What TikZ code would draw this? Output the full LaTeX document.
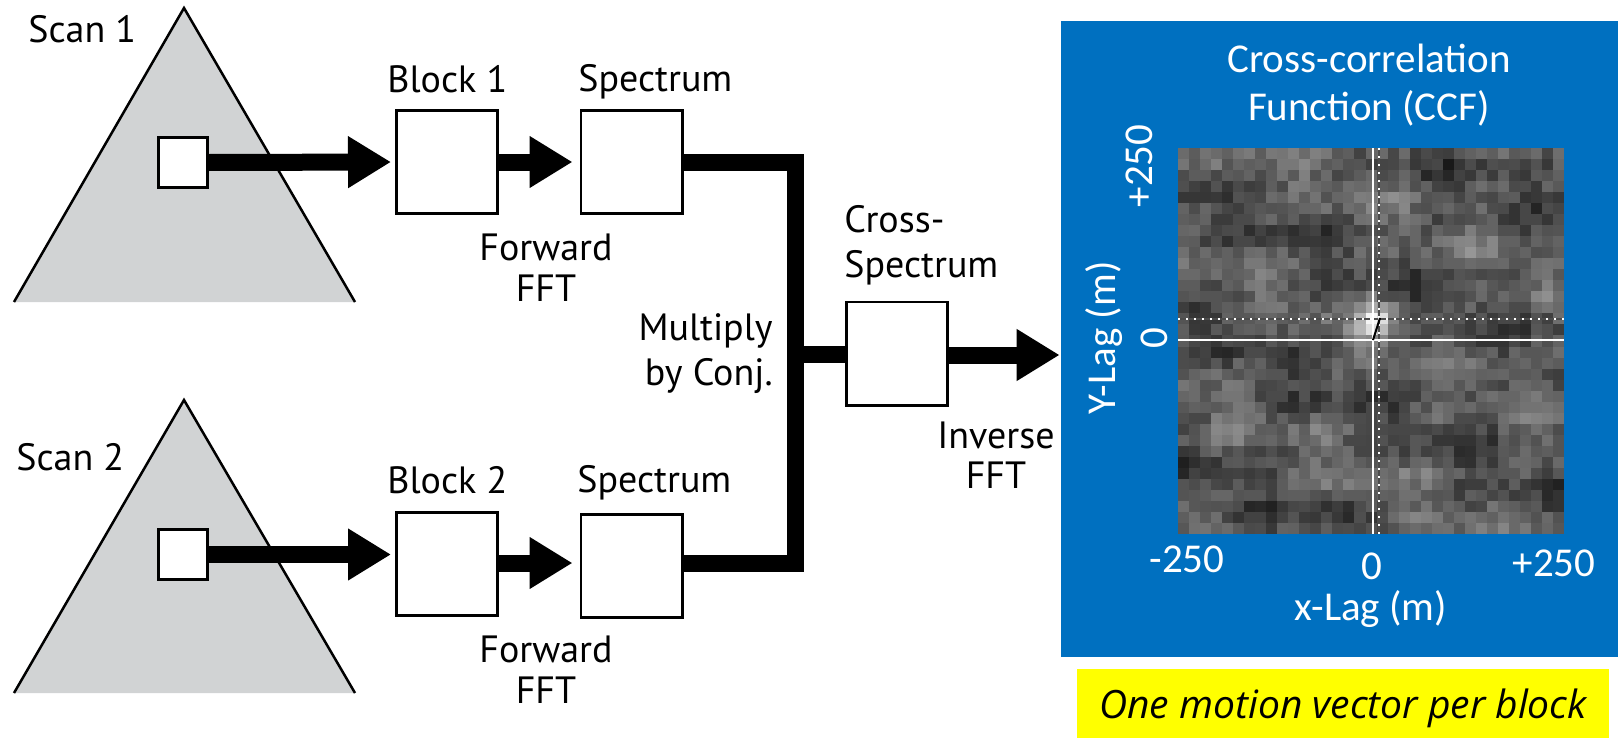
\documentclass[tikz,border=0pt]{standalone}
\usepackage{fontspec}
\setmainfont{PT Sans}
\newfontfamily\ccffont{Carlito}
\newfontfamily\notefont{Open Sans}
\usetikzlibrary{arrows.meta, positioning, calc}
\definecolor{ccfblue}{RGB}{0,112,192}
\definecolor{scangray}{RGB}{209,211,212}
\definecolor{noteyellow}{RGB}{255,255,0}

\begin{document}
\begin{tikzpicture}[
  x=0.5pt, y=-0.5pt,
  font=\fontsize{19}{21.5}\selectfont,
  blocco/.style={draw=black, fill=white, line width=1.4pt, inner sep=0pt,
                 minimum width=50.6pt, minimum height=51.6pt},
  finestra/.style={draw=black, fill=white, line width=1.4pt, inner sep=0pt,
                   minimum width=24.6pt, minimum height=25.1pt},
  freccia/.style={draw=black, line width=8.5pt, -{Triangle[length=21.5pt,width=24.5pt]}},
  bus/.style={draw=black, line width=8.5pt, line join=miter},
  lato/.style={draw=black, line width=1.25pt, line join=miter},
  etichetta/.style={inner sep=0pt},
  testoccf/.style={font=\ccffont\fontsize{20.5}{24}\selectfont, text=white, inner sep=0pt}
]
\useasboundingbox (0,0) rectangle (1620,738);

% scansioni
\fill[scangray] (14,302) -- (184,8) -- (355,302) -- cycle;
\draw[lato] (14,302) -- (184,8) -- (355,302);
\fill[scangray] (14,693) -- (184,400) -- (355,693) -- cycle;
\draw[lato] (14,693) -- (184,400) -- (355,693);

\node[etichetta, anchor=base west] (scan1) at (28,43)  {Scan 1};
\node[etichetta, anchor=base west] (scan2) at (16,470) {Scan 2};

\node[finestra] (win1) at (183,162.5) {};
\node[finestra] (win2) at (183,554.5) {};

% blocchi
\node[blocco] (blk1)  at (447,162)   {};
\node[blocco] (blk2)  at (447,564)   {};
\node[blocco] (spec1) at (631.5,162) {};
\node[blocco] (spec2) at (631.5,566) {};
\node[blocco] (xspec) at (897,353.5) {};

\node[etichetta, anchor=base west] (lblk1)  at (387,92)  {Block 1};
\node[etichetta, anchor=base west] (lblk2)  at (387,493) {Block 2};
\node[etichetta, anchor=base west] (lspec1) at (578,91)  {Spectrum};
\node[etichetta, anchor=base west] (lspec2) at (577,492) {Spectrum};
\node[etichetta, anchor=base, align=center, font=\fontsize{19}{20.5}\selectfont] (fft1) at (546,301) {Forward\\FFT};
\node[etichetta, anchor=base, align=center, font=\fontsize{19}{20.5}\selectfont] (fft2) at (546,703) {Forward\\FFT};
\node[etichetta, anchor=base east, align=right, font=\fontsize{19}{22.5}\selectfont] (mult) at (773,385) {Multiply\\by Conj.};
\node[etichetta, anchor=base west, align=left, font=\fontsize{19}{22.5}\selectfont] (lxspec) at (844,277) {Cross-\\Spectrum};
\node[etichetta, anchor=base, align=center, font=\fontsize{19}{20}\selectfont] (ifft) at (996,488) {Inverse\\FFT};

% pannello CCF
\node[fill=ccfblue, inner sep=0pt, minimum width=278.5pt, minimum height=318pt] (ccf) at (1339.5,339) {};

\draw[freccia, shorten >=2pt] (win1.east) -- (blk1.west);
\draw[freccia, shorten >=2pt] (win2.east) -- (win2.east -| blk2.west);
\draw[freccia, shorten >=3.5pt] (blk1.east) -- (spec1.west);
\draw[freccia, shorten >=3.5pt] ([yshift=0.5pt]blk2.east) -- ([yshift=0.5pt]blk2.east -| spec2.west);

\coordinate (nodo) at (795,354);
\draw[bus] (spec1.east) -| (nodo) |- ([yshift=1.5pt]spec2.east);
\draw[bus] (nodo) -- (nodo -| xspec.west);
\draw[freccia, shorten >=0.5pt] ([yshift=-0.75pt]xspec.east) -- ([yshift=-0.75pt]xspec.east -| ccf.west);

% immagine CCF
\fill[black] (1178,148) rectangle (1564,534);
\pgfmathsetseed{11}
\foreach \i in {0,...,34}{
  \foreach \j in {0,...,34}{
    \pgfmathsetmacro{\dd}{min(30,(\i-17.4)^2+(\j-15.3)^2)}
    \pgfmathsetmacro{\g}{35+9*sin(23*\i+41*\j+30)*cos(31*\j-17*\i)+7*sin(13*\i-29*\j)+18*rnd-9+60*exp(-\dd/2.6)}
    \pgfmathtruncatemacro{\gt}{max(6,min(96,\g))}
    \fill[white!\gt!black] ({1178+\i*386/35},{148+\j*386/35}) rectangle ++(11.2,11.2);
  }
}
\draw[black!70, line width=1pt] (1379,148) -- (1379,534);
\draw[black!70, line width=1pt] (1178,319) -- (1564,319);
\draw[white, line width=1pt, dash pattern=on 1pt off 3pt] (1379,148) -- (1379,534);
\draw[white, line width=1pt, dash pattern=on 1pt off 3pt] (1178,319) -- (1564,319);
\draw[white, line width=1pt] (1373,148) -- (1373,534);
\draw[white, line width=1pt] (1178,340) -- (1564,340);
\draw[black, line width=1pt] (1373,340) -- (1380,318);

\node[testoccf, anchor=base, align=center] (titolo) at (1369,120) {Cross-correlation\\Function (CCF)};
\node[testoccf, rotate=90, anchor=base] (ymax) at (1152,166) {+250};
\node[testoccf, rotate=90, anchor=base] (yzero) at (1167,338) {0};
\node[testoccf, rotate=90, anchor=base] (ylab) at (1115,338) {Y-Lag (m)};
\node[testoccf, anchor=base] (xmin) at (1187,572) {-250};
\node[testoccf, anchor=base] (xzero) at (1372,579) {0};
\node[testoccf, anchor=base] (xmax) at (1554,576) {+250};
\node[testoccf, anchor=base] (xlab) at (1371,620) {x-Lag (m)};

% nota
\node[fill=noteyellow, inner sep=0pt, minimum width=266pt, minimum height=34.5pt,
      text height=14.5pt, text depth=0pt,
      font=\notefont\itshape\fontsize{19.5}{22}\selectfont] (nota) at (1343,703.5) {One motion vector per block};

\end{tikzpicture}
\end{document}
